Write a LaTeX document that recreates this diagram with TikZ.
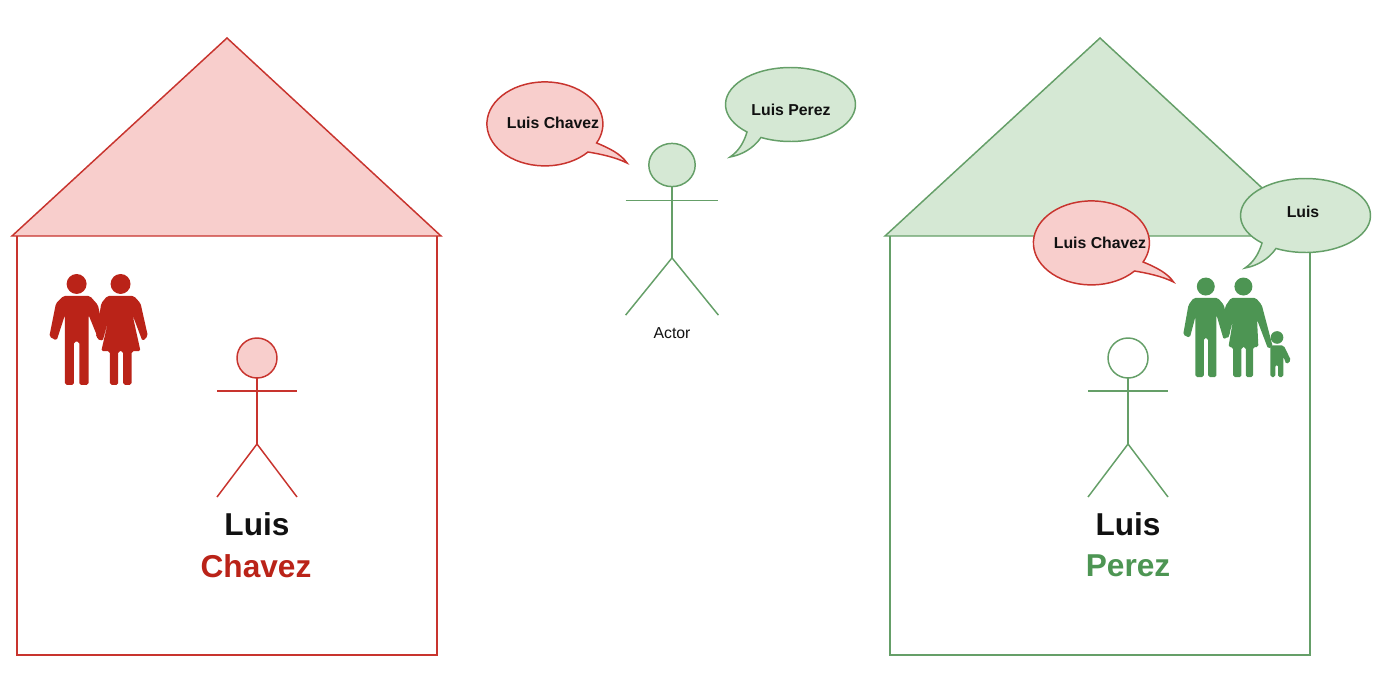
\documentclass[tikz,border=0pt]{standalone}
\usepackage{fontspec}
\setmainfont{Liberation Sans}
\definecolor{redline}{HTML}{C8342E}
\definecolor{redfill}{HTML}{F8CECC}
\definecolor{redicon}{HTML}{BA2318}
\definecolor{greenline}{HTML}{659F68}
\definecolor{greenfill}{HTML}{D5E8D4}
\definecolor{greenicon}{HTML}{4D9553}
\definecolor{inktext}{HTML}{111111}
\tikzset{
  bigname/.style={font=\bfseries\fontsize{9}{10}\selectfont,inner sep=0pt},
  saytext/.style={font=\bfseries\fontsize{4.5}{5}\selectfont,text=inktext,inner sep=0pt},
  wall/.style={line width=0.42pt,line join=miter},
  figure/.style={line width=0.42pt},
  icon/.style={rounded corners=0.5pt}
}
% stick figure: colour, head fill, head centre x, y, x scale, y scale
\newcommand{\stickman}[6]{
  \begin{scope}[shift={(#3,#4)},xscale=#5,yscale=#6,figure,draw=#1]
    \draw[fill=#2] (0,0) circle [radius=20];
    \draw (0,20) -- (0,86);
    \draw (-40,33) -- (40,33);
    \draw (-40,139) -- (0,86) -- (40,139);
  \end{scope}
}
% speech bubble: colour, fill, centre
\newcommand{\bubbleleft}[4]{
  \draw[#1,fill=#2,figure,shift={(#3,#4)}] (43,28)
    arc [start angle=42,end angle=387,x radius=58,y radius=42]
    .. controls (64,24) and (76,30) .. (82,39)
    .. controls (70,33) and (55,30) .. cycle;
}
\newcommand{\bubbleright}[4]{
  \draw[#1,fill=#2,figure,shift={(#3,#4)}] (-44,27)
    arc [start angle=132,end angle=477,x radius=65,y radius=37]
    .. controls (-38,44) and (-50,50) .. (-61,52)
    .. controls (-52,46) and (-47,37) .. cycle;
}
\begin{document}
\begin{tikzpicture}[x=0.1mm,y=-0.1mm]
  \useasboundingbox (0,0) rectangle (1400,695);

  % left house
  \coordinate (lt) at (227,38);
  \coordinate (la) at (12,236);
  \coordinate (lb) at (441,236);
  \draw[wall,draw=redline,fill=redfill] (lt) -- (la) -- (lb) -- cycle;
  \draw[wall,draw=redline] (17,236) -- (17,655) -- (437,655) -- (437,236);

  % right house
  \coordinate (rt) at (1100,38);
  \coordinate (ra) at (885,236);
  \coordinate (rb) at (1314,236);
  \draw[wall,draw=greenline,fill=greenfill] (rt) -- (ra) -- (rb) -- cycle;
  \draw[wall,draw=greenline] (890,236) -- (890,655) -- (1310,655) -- (1310,236);

  \stickman{redline}{redfill}{257}{358}{1}{1}
  \stickman{greenline}{white}{1128}{358}{1}{1}
  \stickman{greenline}{greenfill}{672}{165}{1.16}{1.08}

  % couple
  \begin{scope}[shift={(30,260)},x=0.0333mm,y=-0.0333mm,fill=redicon]
    \fill (140,72) circle [radius=30];
    \fill (272,72) circle [radius=30];
    \fill[icon] (100,108) -- (180,108) -- (204,135) -- (224,228)
      -- (208,244) -- (176,165) -- (176,375) -- (148,375) -- (148,245) -- (132,245)
      -- (132,375) -- (105,375) -- (105,165) -- (80,242) -- (58,230) -- (78,130) -- cycle;
    \fill[icon] (232,108) -- (312,108) -- (332,130) -- (354,228)
      -- (338,244) -- (308,165) -- (332,274) -- (305,274) -- (305,375) -- (280,375)
      -- (280,274) -- (265,274) -- (265,375) -- (240,375) -- (240,274) -- (214,274)
      -- (238,170) -- (218,244) -- (198,232) -- (214,130) -- cycle;
  \end{scope}

  % family
  \begin{scope}[shift={(1020,170)},x=0.0333mm,y=-0.0333mm,fill=greenicon]
    \fill (558,350) circle [radius=27];
    \fill (671,350) circle [radius=27];
    \fill (772,503) circle [radius=19];
    \fill[icon] (522,384) -- (594,384) -- (612,405) -- (632,492)
      -- (612,510) -- (590,435) -- (590,622) -- (565,622) -- (565,505) -- (552,505)
      -- (552,622) -- (527,622) -- (527,440) -- (510,504) -- (490,495) -- (506,405) -- cycle;
    \fill[icon] (634,384) -- (708,384) -- (726,405) -- (759,530)
      -- (745,537) -- (712,450) -- (716,532) -- (700,532) -- (700,622) -- (678,622)
      -- (678,532) -- (665,532) -- (665,622) -- (640,622) -- (640,532) -- (626,532)
      -- (640,450) -- (625,507) -- (610,495) -- (616,410) -- cycle;
    \fill[icon] (752,527) -- (792,527) -- (814,572) -- (800,584)
      -- (791,560) -- (791,622) -- (775,622) -- (775,585) -- (767,585) -- (767,622)
      -- (752,622) -- (752,550) -- cycle;
  \end{scope}

  % bubbles
  \bubbleleft{redline}{redfill}{545}{124}
  \bubbleright{greenline}{greenfill}{791}{105}
  \bubbleleft{redline}{redfill}{1091.5}{243}
  \bubbleright{greenline}{greenfill}{1306}{216}

  \node[saytext] (saychavez) at (553,123) {Luis Chavez};
  \node[saytext] (sayperez) at (791,110) {Luis Perez};
  \node[saytext] (sayhouse) at (1100,243) {Luis Chavez};
  \node[saytext] (sayluis) at (1303,212) {Luis};
  \node[font=\fontsize{4.5}{5}\selectfont,text=inktext,inner sep=0pt] (actor) at (672,333) {Actor};

  \node[bigname,text=inktext] (firstleft) at (257,524) {Luis};
  \node[bigname,text=redicon] (lastleft) at (256,566) {Chavez};
  \node[bigname,text=inktext] (firstright) at (1128,524) {Luis};
  \node[bigname,text=greenicon] (lastright) at (1128,566) {Perez};
\end{tikzpicture}
\end{document}
